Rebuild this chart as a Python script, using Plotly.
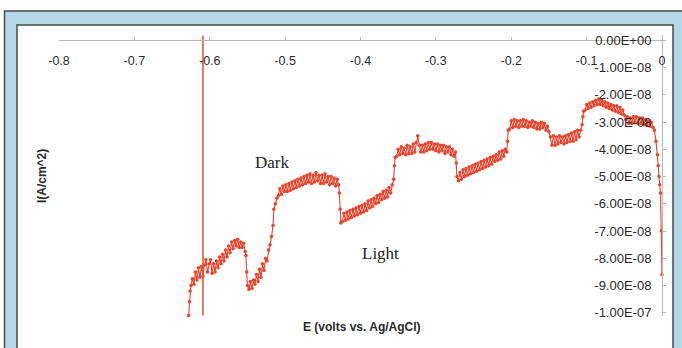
import plotly.graph_objects as go

# ---------------- data ----------------
E_volts = [
    -0.628, -0.627, -0.626, -0.625, -0.623, -0.621, -0.619, -0.617, -0.615, -0.613,
    -0.611, -0.609, -0.607, -0.605, -0.603, -0.601, -0.599, -0.597, -0.595, -0.593,
    -0.591, -0.589, -0.587, -0.585, -0.583, -0.581, -0.579, -0.577, -0.575, -0.573,
    -0.571, -0.569, -0.567, -0.565, -0.563, -0.561, -0.559, -0.557, -0.555, -0.553,
    -0.552, -0.551, -0.550,
    -0.548, -0.546, -0.544, -0.542, -0.540, -0.538, -0.536, -0.534, -0.532, -0.530,
    -0.528, -0.526, -0.524, -0.522, -0.520, -0.518, -0.516, -0.515, -0.513, -0.511,
    -0.509, -0.507, -0.505, -0.503, -0.501, -0.499, -0.497, -0.495, -0.493, -0.491,
    -0.489, -0.487, -0.485, -0.483, -0.481, -0.479, -0.477, -0.475, -0.473, -0.471,
    -0.469, -0.467, -0.465, -0.463, -0.461, -0.459, -0.457, -0.455, -0.453, -0.451,
    -0.449, -0.447, -0.445, -0.443, -0.441, -0.439, -0.437, -0.435, -0.433, -0.431,
    -0.429, -0.428, -0.427, -0.426,
    -0.424, -0.422, -0.420, -0.418, -0.416, -0.414, -0.412, -0.410, -0.408, -0.406,
    -0.404, -0.402, -0.400, -0.398, -0.396, -0.394, -0.392, -0.390, -0.388, -0.386,
    -0.384, -0.382, -0.380, -0.378, -0.376, -0.374, -0.372, -0.370, -0.368, -0.366,
    -0.364, -0.362, -0.360, -0.358, -0.356, -0.355, -0.354,
    -0.352, -0.350, -0.348, -0.346, -0.344, -0.342, -0.340, -0.338, -0.336, -0.334,
    -0.332, -0.330, -0.328, -0.326, -0.324, -0.322, -0.320, -0.318, -0.316, -0.314,
    -0.312, -0.310, -0.308, -0.306, -0.304, -0.302, -0.300, -0.298, -0.296, -0.294,
    -0.292, -0.290, -0.288, -0.286, -0.284, -0.282, -0.280, -0.278, -0.276, -0.274,
    -0.273, -0.272,
    -0.270, -0.268, -0.266, -0.264, -0.262, -0.260, -0.258, -0.256, -0.254, -0.252,
    -0.250, -0.248, -0.246, -0.244, -0.242, -0.240, -0.238, -0.236, -0.234, -0.232,
    -0.230, -0.228, -0.226, -0.224, -0.222, -0.220, -0.218, -0.216, -0.214, -0.212,
    -0.210, -0.208, -0.206, -0.205, -0.204,
    -0.202, -0.200, -0.198, -0.196, -0.194, -0.192, -0.190, -0.188, -0.186, -0.184,
    -0.182, -0.180, -0.178, -0.176, -0.174, -0.172, -0.170, -0.168, -0.166, -0.164,
    -0.162, -0.160, -0.158, -0.156, -0.154, -0.152, -0.150,
    -0.148, -0.146, -0.144, -0.142, -0.140, -0.138, -0.136, -0.134, -0.132, -0.130,
    -0.128, -0.126, -0.124, -0.122, -0.120, -0.118, -0.116, -0.114, -0.112, -0.110,
    -0.108, -0.106, -0.105, -0.104,
    -0.102, -0.100, -0.098, -0.096, -0.094, -0.092, -0.090, -0.088, -0.086, -0.084,
    -0.082, -0.080, -0.078, -0.076, -0.074, -0.072, -0.070, -0.068, -0.066, -0.064,
    -0.062, -0.060, -0.058, -0.056, -0.054, -0.052, -0.050, -0.048, -0.046, -0.044,
    -0.042, -0.040, -0.038, -0.036, -0.034, -0.032, -0.030, -0.028, -0.026, -0.024,
    -0.022, -0.020, -0.018, -0.016, -0.014, -0.012, -0.010, -0.008, -0.006, -0.005,
    -0.004, -0.003, -0.002, -0.001, 0.000,
]

# current in units of 1e-8 A/cm^2
I_e8 = [
    -10.1, -9.6, -9.2, -9.0, -8.75, -8.95, -8.5, -8.8, -8.35, -8.7,
    -8.3, -8.65, -8.25, -8.05, -8.5, -8.2, -8.05, -8.55, -8.2, -8.5,
    -8.1, -8.35, -7.95, -8.2, -7.85, -8.1, -7.7, -7.95, -7.55, -7.8,
    -7.4, -7.65, -7.35, -7.55, -7.3, -7.6, -7.4, -7.6, -7.45, -7.75,
    -7.9, -8.5, -9.0,
    -9.15, -8.85, -9.1, -8.8, -8.95, -8.6, -8.85, -8.4, -8.7, -8.2,
    -8.45, -8.0, -8.1, -7.7, -7.5, -7.2, -6.8, -6.2, -6.0, -5.8,
    -5.7, -5.45, -5.65, -5.35, -5.55, -5.3, -5.55, -5.25, -5.5, -5.2,
    -5.45, -5.15, -5.4, -5.1, -5.35, -5.05, -5.3, -5.0, -5.25, -4.95,
    -5.2, -4.9, -5.25, -4.95, -5.2, -4.85, -5.15, -4.95, -5.25, -4.95,
    -5.25, -4.9, -5.2, -5.0, -5.3, -5.0, -5.25, -5.05, -5.35, -5.1,
    -5.3, -5.6, -6.2, -6.7,
    -6.65, -6.35, -6.6, -6.3, -6.55, -6.25, -6.5, -6.2, -6.45, -6.15,
    -6.4, -6.1, -6.35, -6.05, -6.3, -6.0, -6.25, -5.9, -6.15, -5.85,
    -6.1, -5.8, -6.0, -5.7, -5.95, -5.65, -5.85, -5.55, -5.8, -5.5,
    -5.75, -5.4, -5.6, -5.3, -5.1, -4.6, -4.3,
    -4.25, -4.0, -4.2, -3.9, -4.15, -3.95, -4.2, -3.85, -4.15, -3.9,
    -4.15, -3.8, -4.1, -3.75, -3.5, -3.85, -4.1, -3.85, -4.1, -3.8,
    -4.05, -3.75, -4.0, -3.75, -4.0, -3.8, -4.05, -3.8, -4.1, -3.85,
    -4.05, -3.85, -4.15, -3.9, -4.1, -3.9, -4.2, -4.0, -4.25, -4.1,
    -4.5, -5.0,
    -5.15, -4.85, -5.1, -4.75, -5.0, -4.7, -4.95, -4.65, -4.9, -4.6,
    -4.85, -4.55, -4.8, -4.5, -4.75, -4.45, -4.7, -4.4, -4.65, -4.35,
    -4.6, -4.3, -4.55, -4.25, -4.45, -4.2, -4.4, -4.1, -4.35, -4.05,
    -4.25, -4.0, -4.1, -3.7, -3.3,
    -3.25, -2.95, -3.2, -2.9, -3.15, -2.95, -3.2, -2.95, -3.15, -2.9,
    -3.15, -2.95, -3.2, -3.0, -3.15, -2.95, -3.2, -3.0, -3.25, -3.05,
    -3.25, -3.0, -3.2, -3.05, -3.3, -3.15, -3.35,
    -3.55, -3.85, -3.5, -3.85, -3.55, -3.8, -3.5, -3.75, -3.55, -3.8,
    -3.5, -3.75, -3.45, -3.7, -3.4, -3.7, -3.35, -3.65, -3.3, -3.55,
    -3.3, -3.1, -2.8, -2.6,
    -2.55, -2.35, -2.5, -2.3, -2.45, -2.25, -2.4, -2.2, -2.35, -2.15,
    -2.35, -2.2, -2.4, -2.25, -2.45, -2.3, -2.5, -2.35, -2.55, -2.4,
    -2.6, -2.4, -2.65, -2.45, -2.7, -2.55, -2.75, -2.9, -2.8, -3.05,
    -2.85, -3.05, -2.8, -3.0, -2.8, -3.05, -2.85, -3.05, -2.85, -3.1,
    -2.9, -3.1, -2.95, -3.15, -3.0, -3.2, -3.3, -3.7, -4.2, -4.6,
    -5.0, -5.3, -5.6, -7.0, -8.6,
]
UNIT = 1e-8
I_values = [v * UNIT for v in I_e8]

marker_E = [-0.609, -0.609]
marker_I = [0.18e-8, -1.01e-7]

x_ticks = [-0.8, -0.7, -0.6, -0.5, -0.4, -0.3, -0.2, -0.1, 0.0]
x_tick_text = ["-0.8", "-0.7", "-0.6", "-0.5", "-0.4", "-0.3", "-0.2", "-0.1", "0"]
y_ticks = [0, -1e-8, -2e-8, -3e-8, -4e-8, -5e-8, -6e-8, -7e-8, -8e-8, -9e-8, -1e-7]
y_tick_text = ["0.00E+00", "-1.00E-08", "-2.00E-08", "-3.00E-08", "-4.00E-08",
               "-5.00E-08", "-6.00E-08", "-7.00E-08", "-8.00E-08", "-9.00E-08",
               "-1.00E-07"]

labels = ["Dark", "Light"]
label_E = [-0.517, -0.374]
label_I = [-4.47e-8, -7.84e-8]

# ---------------- layout geometry ----------------
W, H = 682, 348
X_RANGE = [-0.8, 0.0]
Y_RANGE = [-1.012e-7, 0.2e-8]
PX_PER_UNIT_Y = 27.3 / 1e-8
Y0_PX = 40.0  # pixel row of I = 0
L, R = 59, 662
T = Y0_PX - Y_RANGE[1] * PX_PER_UNIT_Y
B = Y0_PX - Y_RANGE[0] * PX_PER_UNIT_Y
x_axis_pos = (0 - Y_RANGE[0]) / (Y_RANGE[1] - Y_RANGE[0])


def px_x(p):
    return (p - L) / (R - L)


def px_y(p):
    return (B - p) / (B - T)


RED = "#e8432b"
TXT = "#2a2a2a"

fig = go.Figure()
fig.add_trace(go.Scatter(
    x=E_volts, y=I_values, mode="lines+markers",
    line=dict(color=RED, width=1.1),
    marker=dict(color=RED, size=3.5),
    cliponaxis=False, showlegend=False, hoverinfo="x+y",
))
fig.add_trace(go.Scatter(
    x=marker_E, y=marker_I, mode="lines",
    line=dict(color="#dd5a3a", width=1.6),
    cliponaxis=False, showlegend=False,
))

for t, xv, yv in zip(labels, label_E, label_I):
    fig.add_annotation(x=xv, y=yv, text=t, showarrow=False,
                       font=dict(family="Liberation Serif", size=17, color="#222222"))

# axis titles
fig.add_annotation(xref="paper", yref="paper", x=px_x(362), y=px_y(336),
                   text="<b>E (volts vs. Ag/AgCl)</b>", showarrow=False,
                   font=dict(family="Liberation Sans", size=12, color=TXT))
fig.add_annotation(xref="paper", yref="paper", x=px_x(33), y=px_y(176),
                   text="<b>I(A/cm^2)</b>", showarrow=False, textangle=-90,
                   font=dict(family="Liberation Sans", size=12, color=TXT))

# frame: blue border and inner white panel
fig.add_shape(type="rect", xref="paper", yref="paper", layer="below",
              x0=px_x(4.5), x1=px_x(700), y0=px_y(400), y1=px_y(10.5),
              fillcolor="#b4d8e7", line=dict(color="#4a4a4a", width=1.5))
fig.add_shape(type="rect", xref="paper", yref="paper", layer="below",
              x0=px_x(17), x1=px_x(673), y0=px_y(400), y1=px_y(24.5),
              fillcolor="#ffffff", line=dict(color="#4a4a4a", width=1.5))

fig.update_layout(
    width=W, height=H,
    margin=dict(l=L, r=W - R, t=T, b=H - B),
    paper_bgcolor="#ffffff", plot_bgcolor="rgba(0,0,0,0)",
    font=dict(family="Liberation Sans", size=12, color=TXT),
    showlegend=False,
)
fig.update_xaxes(
    range=X_RANGE, side="bottom", anchor="free", position=x_axis_pos,
    tickvals=x_ticks, ticktext=x_tick_text, ticklabelstandoff=9,
    showline=True, linecolor="#b8b8b8", linewidth=1,
    ticks="inside", ticklen=3, tickcolor="#b8b8b8",
    showgrid=False, zeroline=False,
    tickfont=dict(family="Liberation Sans", size=12.5, color=TXT),
)
fig.update_yaxes(
    range=Y_RANGE, side="left", anchor="free", position=1.0,
    tickvals=y_ticks, ticktext=y_tick_text, ticklabelstandoff=8,
    showline=True, linecolor="#b8b8b8", linewidth=1,
    ticks="inside", ticklen=3, tickcolor="#b8b8b8",
    showgrid=False, zeroline=False,
    tickfont=dict(family="Liberation Sans", size=13, color=TXT),
)

fig.write_html("out.html")
